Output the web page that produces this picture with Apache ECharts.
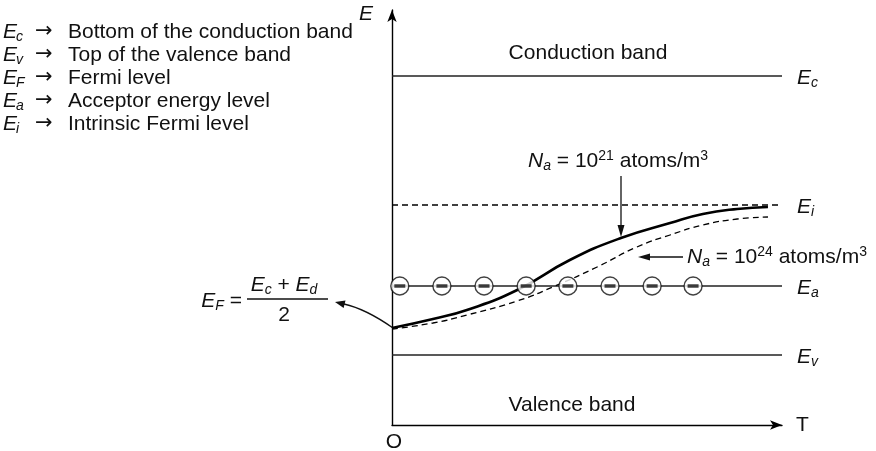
<!DOCTYPE html>
<html lang="en">
<head>
	<meta charset="UTF-8">
	<title>Fermi level vs temperature, p-type</title>
	<script type="text/javascript" src="https://cdn.jsdelivr.net/npm/echarts@6.0.0/dist/echarts.min.js"></script>
	<style type="text/css">
		body { margin: 0; background: #fff; }
		#main { width: 876px; height: 451px; }
	</style>
</head>
<body>
	<div id="main"></div>
	<script type="text/javascript">
		// energy levels (arbitrary units)
		var levelNames = ['c', 'i', 'a', 'v'];
		var levelValues = [3.49, 2.20, 1.39, 0.70];
		var levelDashed = [false, true, false, false];
		var tMin = 0, tMax = 10;

		// acceptor ions sitting on Ea
		var acceptorT = [0.2, 1.28, 2.36, 3.44, 4.51, 5.59, 6.67, 7.72];

		// Fermi level, Na = 10^21 atoms/m^3 (solid)
		var lowT = [0, 1.05, 1.92, 3.21, 4.56, 5.87, 7.13, 7.97, 8.85, 9.64];
		var lowE = [0.97, 1.06, 1.15, 1.35, 1.65, 1.87, 2.02, 2.11, 2.16, 2.18];

		// Fermi level, Na = 10^24 atoms/m^3 (dashed)
		var highT = [0, 1.05, 1.92, 3.21, 4.18, 5.26, 6.28, 7.13, 7.97, 8.85, 9.64];
		var highE = [0.96, 1.02, 1.10, 1.24, 1.39, 1.58, 1.78, 1.90, 2.00, 2.06, 2.08];

		var FONT = 'Liberation Sans, Arial, sans-serif';

		function zip(xs, ys) {
			var out = [];
			for (var i = 0; i < xs.length; i++) out.push([xs[i], ys[i]]);
			return out;
		}

		// rich styles for graphic (zrender) text
		var gRich = {
			i: { fontFamily: FONT, fontStyle: 'italic', fontSize: 21, lineHeight: 24, fill: '#111' },
			s: { fontFamily: FONT, fontStyle: 'italic', fontSize: 14, lineHeight: 10, verticalAlign: 'bottom', fill: '#111' },
			n: { fontFamily: FONT, fontSize: 21, lineHeight: 24, fill: '#111' },
			p: { fontFamily: FONT, fontSize: 14, lineHeight: 10, verticalAlign: 'top', fill: '#111' }
		};
		// rich styles for echarts labels
		var lRich = {
			i: { fontFamily: FONT, fontStyle: 'italic', fontSize: 21, lineHeight: 24, color: '#111' },
			s: { fontFamily: FONT, fontStyle: 'italic', fontSize: 14, lineHeight: 10, verticalAlign: 'bottom', color: '#111' }
		};

		function txt(x, y, text, align) {
			return {
				type: 'text', x: x, y: y, z: 10,
				style: { text: text, rich: gRich, align: align || 'center', verticalAlign: 'middle', fill: '#111',
					fontFamily: FONT, fontSize: 21 }
			};
		}

		var legendRows = [
			['c', 'Bottom of the conduction band'],
			['v', 'Top of the valence band'],
			['F', 'Fermi level'],
			['a', 'Acceptor energy level'],
			['i', 'Intrinsic Fermi level']
		];
		var legendRich = Object.assign({}, gRich, {
			e: { fontFamily: FONT, fontStyle: 'italic', fontSize: 21, lineHeight: 24, width: 13, fill: '#111' },
			t: { fontFamily: FONT, fontStyle: 'italic', fontSize: 14, lineHeight: 10, verticalAlign: 'bottom', width: 19, fill: '#111' },
			ar: { fontFamily: 'DejaVu Sans', fontSize: 21, lineHeight: 24, width: 33, fill: '#111' }
		});

		var graphic = [];
		legendRows.forEach(function (row, k) {
			graphic.push({
				type: 'text', x: 3, y: 32 + k * 23, z: 10,
				style: { text: '{e|E}{t|' + row[0] + '}{ar|→}{n|' + row[1] + '}', rich: legendRich,
					align: 'left', verticalAlign: 'middle' }
			});
		});

		graphic.push(txt(366, 14, '{i|E}'));
		graphic.push(txt(394, 442, '{n|O}'));
		graphic.push(txt(588, 53, '{n|Conduction band}'));
		graphic.push(txt(572, 405, '{n|Valence band}'));
		graphic.push(txt(708, 161, '{i|N}{s|a}{n| = 10}{p|21}{n| atoms/m}{p|3}', 'right'));
		graphic.push(txt(687, 257, '{i|N}{s|a}{n| = 10}{p|24}{n| atoms/m}{p|3}', 'left'));

		// E_F = (Ec + Ed) / 2
		graphic.push(txt(242, 301, '{i|E}{s|F}{n| =}', 'right'));
		graphic.push(txt(284, 285, '{i|E}{s|c}{n| + }{i|E}{s|d}'));
		graphic.push(txt(284, 315, '{n|2}'));
		graphic.push({ type: 'line', shape: { x1: 247, y1: 299, x2: 328, y2: 299 }, style: { stroke: '#111', lineWidth: 1.3 } });

		// arrows
		graphic.push({ type: 'bezierCurve', shape: { x1: 393, y1: 328, cpx1: 366, cpy1: 309, x2: 344, y2: 304 },
			style: { stroke: '#111', lineWidth: 1.3, fill: null } });
		graphic.push({ type: 'polygon', shape: { points: [[335, 302], [345.5, 300.6], [343.6, 308]] }, style: { fill: '#111' } });

		graphic.push({ type: 'line', shape: { x1: 621, y1: 176, x2: 621, y2: 228 }, style: { stroke: '#111', lineWidth: 1.3 } });
		graphic.push({ type: 'polygon', shape: { points: [[621, 237], [617.5, 225], [624.5, 225]] }, style: { fill: '#111' } });

		graphic.push({ type: 'line', shape: { x1: 683, y1: 257, x2: 648, y2: 257 }, style: { stroke: '#111', lineWidth: 1.3 } });
		graphic.push({ type: 'polygon', shape: { points: [[638, 257], [650, 253.5], [650, 260.5]] }, style: { fill: '#111' } });

		var series = [];
		levelValues.forEach(function (v, k) {
			series.push({
				name: 'E' + levelNames[k],
				type: 'line',
				data: [[tMin, v], [tMax, v]],
				symbol: 'none',
				silent: true,
				lineStyle: { color: levelDashed[k] ? '#000' : '#222', width: 1.3, type: levelDashed[k] ? [6, 4] : 'solid' },
				endLabel: {
					show: true, distance: 15, offset: [0, 2],
					formatter: '{i|E}{s|' + levelNames[k] + '}',
					rich: lRich
				}
			});
		});

		series.push({
			name: 'Na 1e21', type: 'line', data: zip(lowT, lowE), smooth: 0.5, symbol: 'none',
			lineStyle: { color: '#000', width: 2.6 }, z: 3
		});
		series.push({
			name: 'Na 1e24', type: 'line', data: zip(highT, highE), smooth: 0.5, symbol: 'none',
			lineStyle: { color: '#000', width: 1.3, type: [6, 4] }, z: 3
		});

		var ions = acceptorT.map(function (t) { return [t, levelValues[2]]; });
		series.push({
			name: 'ions', type: 'scatter', data: ions, symbol: 'circle', symbolSize: 18, z: 4,
			itemStyle: { color: '#fff', borderColor: '#111', borderWidth: 1.4 }
		});
		series.push({
			name: 'minus', type: 'scatter', data: ions, symbol: 'rect', symbolSize: [11, 3.5], z: 5,
			itemStyle: { color: '#111' }
		});

		var option = {
			animation: false,
			textStyle: { fontFamily: FONT },
			grid: { left: 392, right: 94, top: 10, bottom: 26 },
			xAxis: {
				type: 'value', min: tMin, max: tMax,
				name: 'T', nameLocation: 'end', nameGap: 14,
				nameTextStyle: { fontFamily: FONT, fontSize: 21, color: '#111', verticalAlign: 'middle', align: 'left' },
				axisLine: { show: true, symbol: ['none', 'arrow'], symbolSize: [7, 12], lineStyle: { color: '#000', width: 1.4 } },
				axisTick: { show: false }, axisLabel: { show: false }, splitLine: { show: false }
			},
			yAxis: {
				type: 'value', min: 0, max: 4.15,
				axisLine: { show: true, symbol: ['none', 'arrow'], symbolSize: [7, 12], lineStyle: { color: '#000', width: 1.4 } },
				axisTick: { show: false }, axisLabel: { show: false }, splitLine: { show: false }
			},
			graphic: graphic,
			series: series
		};

		var chart = echarts.init(document.getElementById('main'));
		chart.setOption(option);
	</script>
</body>
</html>
